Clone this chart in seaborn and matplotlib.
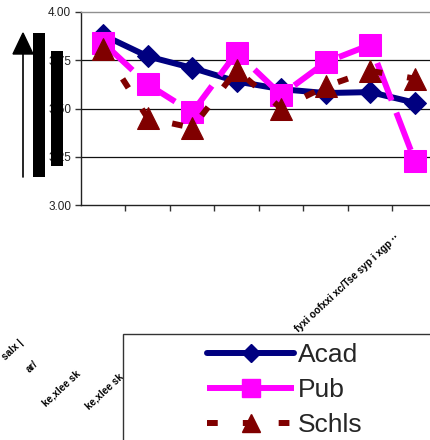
import matplotlib
matplotlib.use("Agg")
import numpy as np
import pandas as pd
import seaborn as sns
import matplotlib.pyplot as plt
from matplotlib.lines import Line2D
from matplotlib.patches import Rectangle, Polygon

# ---------------- data ----------------
categories = ["1", "2", "3", "4", "5", "6", "7", "8"]
acad = [3.88, 3.77, 3.71, 3.64, 3.60, 3.58, 3.585, 3.53]
pub = [3.84, 3.625, 3.48, 3.79, 3.57, 3.74, 3.83, 3.23]
schls = [3.81, 3.45, 3.40, 3.70, 3.50, 3.615, 3.695, 3.655]
series_names = ["Acad", "Pub", "Schls"]
y_ticks = [3.00, 3.25, 3.50, 3.75, 4.00]
x_labels = ["salx |", "ar/", "ke,xlee sk", "ke,xlee sk",
            "fyxi oofxxi xc/Tse syp i xgp \u00b7\u00b7"]

W, H = 431, 440
sns.set_theme(style="white")
plt.rcParams["font.family"] = ["Liberation Sans", "DejaVu Sans"]

fig = plt.figure(figsize=(W / 100, H / 100), dpi=100)


def fx(px):
    return px / W


def fy(py):
    return 1 - py / H


ax = fig.add_axes([fx(81), fy(205), (437 - 81) / W, (205 - 12) / H])

df = pd.DataFrame({
    "x": np.tile(np.arange(len(categories)), 3),
    "value": acad + pub + schls,
    "series": np.repeat(series_names, len(categories)),
})

styles = {
    "Acad": dict(color="#000080", marker="D", ms=11.5, dashes=(None, None), z=3),
    "Pub": dict(color="#FF00FF", marker="s", ms=16.5, dashes=(6.7, 2.2), z=4),
    "Schls": dict(color="#800000", marker="^", ms=16.5, dashes=(1.8, 4.2), z=5),
}

for name in series_names:
    st = styles[name]
    sub = df[df["series"] == name]
    n_before = len(ax.lines)
    sns.lineplot(data=sub, x="x", y="value", ax=ax, color=st["color"],
                 marker=st["marker"], markersize=st["ms"],
                 markeredgecolor=st["color"], markerfacecolor=st["color"],
                 linewidth=4.3, zorder=st["z"], legend=False)
    line = ax.lines[n_before]
    if st["dashes"][0] is not None:
        line.set_dashes(st["dashes"])
    line.set_solid_capstyle("butt")
    line.set_dash_capstyle("butt")

ax.set_xlim(-0.5, 7.5)
ax.set_ylim(3.0, 4.0)
ax.set_yticks(y_ticks)
ax.set_yticklabels([f"{v:.2f}" for v in y_ticks], fontsize=8.5, color="#222222")
ax.set_xticks(np.arange(0.5, 7.0, 1.0))
ax.set_xticklabels([])
ax.tick_params(axis="both", direction="out", length=4, width=1, color="#333333",
               left=True, bottom=True, pad=3)
ax.set_xlabel("")
ax.set_ylabel("")
for v in y_ticks[1:-1]:
    ax.axhline(v, color="#111111", lw=0.9, zorder=1)
ax.spines["left"].set_color("#222222")
ax.spines["bottom"].set_color("#222222")
ax.spines["top"].set_color("#909090")
ax.spines["right"].set_visible(False)
for s in ax.spines.values():
    s.set_linewidth(1.0)
ax.set_facecolor("white")

# ---------- left rotated-title decoration (arrow + blocks) ----------
fig.add_artist(Line2D([fx(23), fx(23)], [fy(177), fy(50)],
                      transform=fig.transFigure, color="black", lw=1.2, zorder=10))
fig.add_artist(Polygon([[fx(23), fy(33)], [fx(13), fy(54)], [fx(33), fy(54)]],
                       closed=True, transform=fig.transFigure,
                       facecolor="black", edgecolor="black", zorder=10))
fig.add_artist(Rectangle((fx(33), fy(177)), (45 - 33) / W, (177 - 33) / H,
                         transform=fig.transFigure, facecolor="black",
                         edgecolor="none", zorder=10))
fig.add_artist(Rectangle((fx(51), fy(166)), (63 - 51) / W, (166 - 51) / H,
                         transform=fig.transFigure, facecolor="black",
                         edgecolor="none", zorder=10))

# ---------- rotated category labels ----------
label_anchor_px = [(22, 341), (37, 363), (79, 372), (122, 375), (398, 236)]
for txt, (px, py) in zip(x_labels, label_anchor_px):
    fig.text(fx(px), fy(py), txt, rotation=43, rotation_mode="anchor",
             ha="right", va="center", fontsize=7.2, fontweight="bold",
             color="black", zorder=5)

# ---------- legend box ----------
fig.add_artist(Rectangle((fx(123), fy(450)), (460 - 123) / W, (450 - 334) / H,
                         transform=fig.transFigure, facecolor="white",
                         edgecolor="#333333", lw=1.0, zorder=20))
handles = [
    Line2D([], [], color="#000080", lw=4.3, marker="D", ms=9,
           markeredgecolor="#000080", solid_capstyle="round"),
    Line2D([], [], color="#FF00FF", lw=4.3, marker="s", ms=12.5,
           markeredgecolor="#FF00FF", dashes=(6.7, 2.2), dash_capstyle="butt"),
    Line2D([], [], color="#800000", lw=4.3, marker="^", ms=12.5,
           markeredgecolor="#800000", dashes=(1.8, 4.2), dash_capstyle="butt"),
]
leg = fig.legend(handles, series_names, loc="upper left",
                 bbox_to_anchor=(fx(207), fy(343)), frameon=False,
                 fontsize=19, handlelength=3.3, handletextpad=0.16,
                 labelspacing=0.42, borderpad=0, borderaxespad=0)
leg.set_zorder(21)

fig.savefig("out.png", dpi=100)
